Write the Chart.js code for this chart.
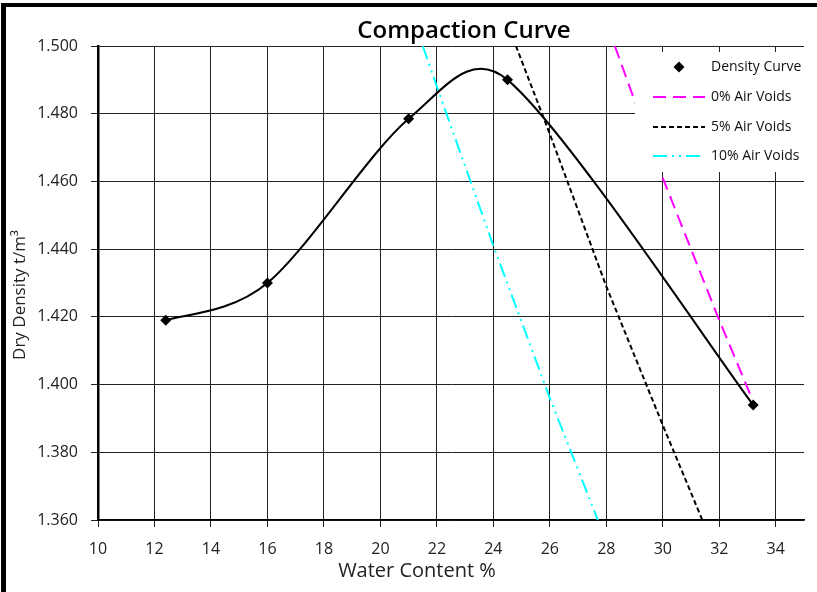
<!DOCTYPE html>
<html>
<head>
<meta charset="utf-8">
<title>Compaction Curve</title>
<script src="https://cdn.jsdelivr.net/npm/chart.js@4.4.1/dist/chart.umd.min.js"></script>
<style>
  html, body { margin: 0; padding: 0; background: #fff; }
  #wrap { width: 817px; height: 592px; }
</style>
</head>
<body>
<div id="wrap"><canvas id="chart" width="817" height="592"></canvas></div>
<script>
// compaction test results
const waterContent = [12.4, 16.0, 21.0, 24.5, 33.2];
const dryDensity = [1.419, 1.430, 1.4785, 1.490, 1.394];

// air voids lines
const zeroAirW = [28.3, 30.0, 32.0, 33.1];
const zeroAirD = [1.500, 1.461, 1.419, 1.397];
const fiveAirW = [24.8, 26.0, 28.0, 30.0, 31.4];
const fiveAirD = [1.500, 1.474, 1.429, 1.388, 1.360];
const tenAirW = [21.5, 22.0, 24.0, 26.0, 27.7];
const tenAirD = [1.500, 1.488, 1.441, 1.396, 1.360];

const xTicks = [10, 12, 14, 16, 18, 20, 22, 24, 26, 28, 30, 32, 34];
const yTicks = [1.36, 1.38, 1.40, 1.42, 1.44, 1.46, 1.48, 1.50];

const toPoints = (xs, ys) => xs.map((x, i) => ({ x: x, y: ys[i] }));

const FONT = "'Open Sans', 'DejaVu Sans', sans-serif";

// smooth the density curve the spreadsheet way: bezier handles along
// (next - prev) / 6, kept shorter than ~half the neighbouring segment
const smoothCurve = {
  id: "smoothCurve",
  beforeDatasetsDraw(chart) {
    const meta = chart.getDatasetMeta(0);
    const pts = meta.data;
    const k = 1 / 6;
    const cap = 0.45;
    const dist = (a, b) => Math.hypot(b.x - a.x, b.y - a.y);
    pts.forEach((p, i) => {
      const prev = pts[i - 1] || p;
      const next = pts[i + 1] || p;
      const dx = (next.x - prev.x) * k;
      const dy = (next.y - prev.y) * k;
      const len = Math.hypot(dx, dy) || 1;
      const s1 = Math.min(1, (cap * dist(prev, p)) / len);
      const s2 = Math.min(1, (cap * dist(p, next)) / len);
      p.cp1x = p.x - dx * s1;
      p.cp1y = p.y - dy * s1;
      p.cp2x = p.x + dx * s2;
      p.cp2y = p.y + dy * s2;
    });
    meta.dataset._pointsUpdated = true;
    meta.dataset._path = undefined;
  }
};

// frame, titles and the boxed legend inside the plot
const decor = {
  id: "decor",
  afterDatasetsDraw(chart) {
    const ctx = chart.ctx;
    ctx.save();
    ctx.fillStyle = "#fff";
    ctx.fillRect(635, 52, 182, 120);

    const rows = [67, 97, 127, 156];
    ctx.font = "14px " + FONT;
    ctx.textBaseline = "middle";
    chart.data.datasets.forEach((ds, i) => {
      const y = rows[i];
      if (i === 0) {
        ctx.fillStyle = "#000";
        ctx.beginPath();
        ctx.moveTo(679, y - 5.5);
        ctx.lineTo(684.5, y);
        ctx.lineTo(679, y + 5.5);
        ctx.lineTo(673.5, y);
        ctx.closePath();
        ctx.fill();
      } else {
        ctx.strokeStyle = ds.borderColor;
        ctx.lineWidth = ds.borderWidth;
        ctx.setLineDash(ds.borderDash || []);
        ctx.beginPath();
        ctx.moveTo(653, y);
        ctx.lineTo(705, y);
        ctx.stroke();
        ctx.setLineDash([]);
      }
      ctx.fillStyle = "#111";
      ctx.textAlign = "left";
      ctx.fillText(ds.label, 711, y);
    });
    ctx.restore();
  },
  afterDraw(chart) {
    const ctx = chart.ctx;
    ctx.save();
    ctx.fillStyle = "#000";
    ctx.fillRect(1, 3, 5, 600);
    ctx.fillRect(1, 3, 830, 4);

    ctx.fillStyle = "#000";
    ctx.textAlign = "center";
    ctx.textBaseline = "alphabetic";
    ctx.font = "600 24px " + FONT;
    ctx.fillText("Compaction Curve", 464, 38);

    ctx.fillStyle = "#222";
    ctx.font = "20px " + FONT;
    ctx.textBaseline = "middle";
    ctx.fillText("Water Content %", 417, 571);

    ctx.translate(20, 295);
    ctx.rotate(-Math.PI / 2);
    ctx.font = "17px " + FONT;
    ctx.fillText("Dry Density t/m³", 0, 0);
    ctx.restore();
  }
};

new Chart(document.getElementById("chart"), {
  type: "line",
  data: {
    datasets: [
      {
        label: "Density Curve",
        data: toPoints(waterContent, dryDensity),
        borderColor: "#000",
        backgroundColor: "#000",
        borderWidth: 2,
        tension: 0.4,
        pointStyle: "rectRot",
        pointRadius: 5.5,
        pointBorderWidth: 0,
      },
      {
        label: "0% Air Voids",
        data: toPoints(zeroAirW, zeroAirD),
        borderColor: "#ff00ff",
        borderWidth: 2,
        borderDash: [13, 7],
        pointRadius: 0,
        tension: 0,
      },
      {
        label: "5% Air Voids",
        data: toPoints(fiveAirW, fiveAirD),
        borderColor: "#000",
        borderWidth: 2,
        borderDash: [5, 3],
        pointRadius: 0,
        tension: 0,
      },
      {
        label: "10% Air Voids",
        data: toPoints(tenAirW, tenAirD),
        borderColor: "#00ffff",
        borderWidth: 2,
        borderDash: [14, 5, 2, 5, 2, 5],
        pointRadius: 0,
        tension: 0,
      },
    ],
  },
  options: {
    responsive: false,
    animation: false,
    layout: { padding: { top: 46, right: 13, left: 0, bottom: 0 } },
    plugins: {
      legend: { display: false },
      title: { display: false },
      tooltip: { enabled: false },
    },
    scales: {
      x: {
        type: "linear",
        min: 10,
        max: 35,
        afterBuildTicks: (scale) => {
          scale.ticks = xTicks.map((v) => ({ value: v }));
        },
        afterFit: (scale) => {
          scale.height = 72;
        },
        grid: { color: "#222", lineWidth: 1, tickLength: 7 },
        border: { color: "#000", width: 1.5 },
        ticks: {
          color: "#222",
          padding: 13,
          font: { family: FONT, size: 16 },
          maxRotation: 0,
        },
      },
      y: {
        min: 1.36,
        max: 1.5,
        afterBuildTicks: (scale) => {
          scale.ticks = yTicks.map((v) => ({ value: v }));
        },
        afterFit: (scale) => {
          scale.width = 98;
        },
        grid: { color: "#222", lineWidth: 1, tickLength: 7 },
        border: { color: "#000", width: 2.5 },
        ticks: {
          color: "#222",
          padding: 13,
          font: { family: FONT, size: 16 },
          callback: (v) => Number(v).toFixed(3),
        },
      },
    },
  },
  plugins: [smoothCurve, decor],
});
</script>
</body>
</html>
